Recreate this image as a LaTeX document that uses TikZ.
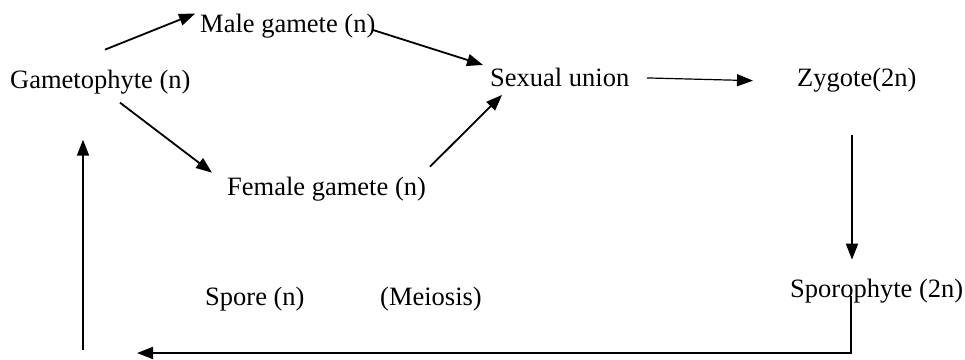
\documentclass[tikz,border=0pt]{standalone}
\usepackage{fontspec}
\setmainfont{Liberation Serif}
\usetikzlibrary{arrows.meta,calc}
\begin{document}
\begin{tikzpicture}[x=1pt,y=1pt,
  lbl/.style={anchor=base west,inner sep=0pt,font=\fontsize{26.5}{30}\selectfont},
  arr/.style={line width=1.8pt,-{Triangle[length=16pt,width=12pt]}},
  ln/.style={line width=1.5pt}]
\useasboundingbox (0,0) rectangle (965,359);
\node[lbl] (gam) at (10,270) {Gametophyte (n)};
\node[lbl] (male) at (200,326) {Male gamete (n)};
\node[lbl] (sex) at (490,272) {Sexual union};
\node[lbl] (zyg) at (797,272) {Zygote(2n)};
\node[lbl] (fem) at (227,164) {Female gamete (n)};
\node[lbl] (spore) at (205,54) {Spore (n)};
\node[lbl] (mei) at (380,54) {(Meiosis)};
\node[lbl] (spo) at (790,62) {Sporophyte (2n)};
\coordinate (loopend) at (137,6);
\coordinate (loopstart) at (83,9);
% gametophyte -> male gamete
\draw[arr] ($(gam.west)+(95,33)$) -- ($(male.west)+(-5,13)$);
% male gamete -> sexual union
\draw[arr] ($(male.west)+(172,-3)$) -- ($(sex.west)+(-7,13)$);
% gametophyte -> female gamete
\draw[arr] ($(gam.west)+(110,-20)$) -- ($(fem.west)+(-15,16)$);
% female gamete -> sexual union
\draw[arr] ($(fem.west)+(203,22)$) -- ($(sex.west)+(12,-17)$);
% sexual union -> zygote
\draw[arr,line width=1.2pt] ($(sex.west)+(157,0)$) -- ($(zyg.west)+(-44,0)$);
% zygote -> sporophyte
\draw[arr] ($(zyg.west)+(55,-54)$) -- ($(spo.west)+(62,31)$);
% sporophyte -> back
\draw[arr] ($(spo.west)+(61,-5)$) |- (loopend);
% up to gametophyte
\draw[arr] (loopstart) -- ($(gam.west)+(73,-57)$);
\end{tikzpicture}
\end{document}
